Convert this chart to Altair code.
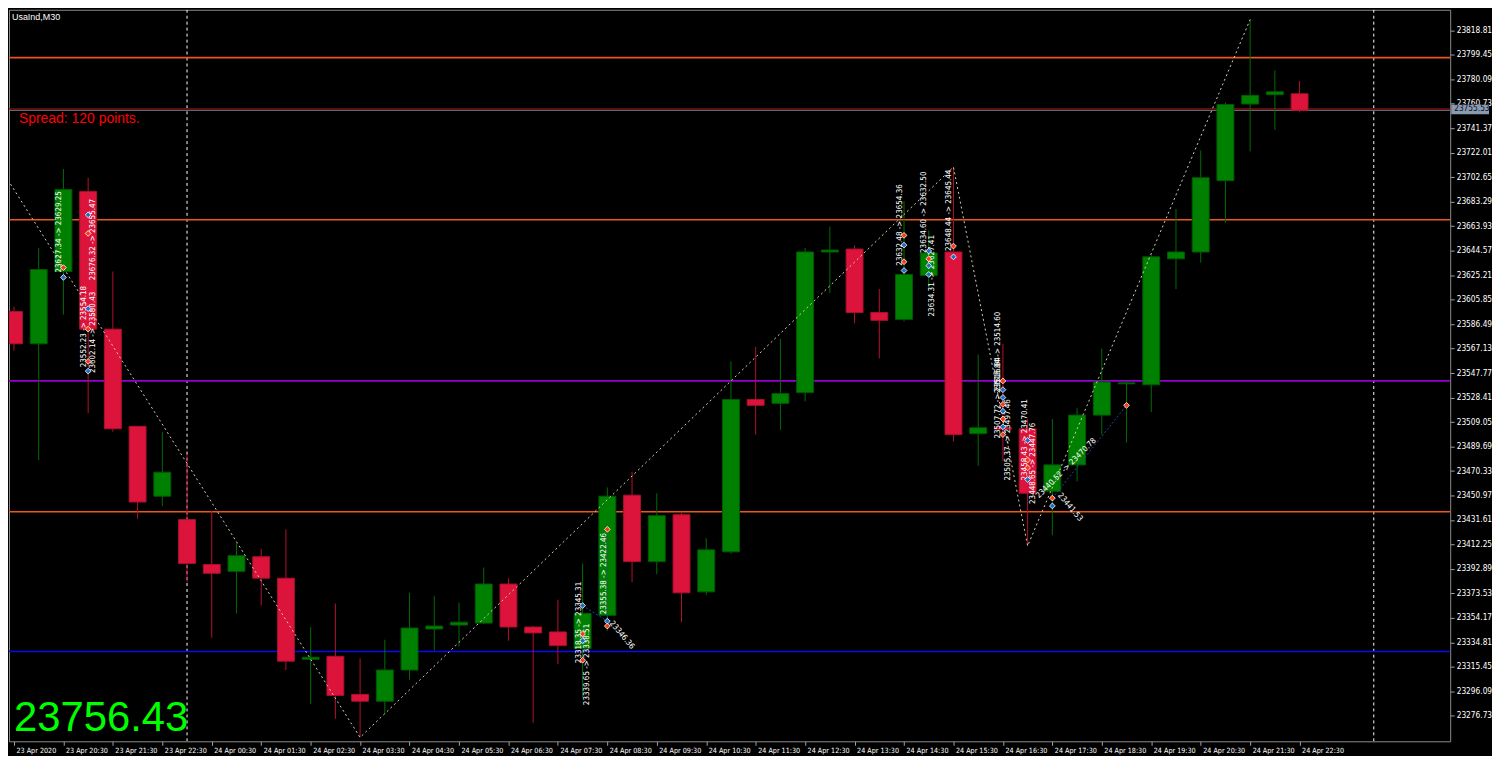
import altair as alt
import pandas as pd

# ---------------- data ----------------
idx = list(range(53))
opens = [23596.42, 23570.94, 23628.08, 23691.40, 23582.52, 23505.68, 23450.47, 23431.94, 23396.42, 23391.01,
         23402.60, 23385.61, 23321.51, 23323.83, 23293.72, 23288.31, 23313.02, 23345.45, 23348.54, 23350.09,
         23380.97, 23347.00, 23343.14, 23330.01, 23356.26, 23451.24, 23398.73, 23435.80, 23374.80, 23406.46,
         23526.92, 23523.83, 23532.33, 23643.52, 23645.84, 23595.65, 23590.24, 23624.99, 23643.52, 23499.89,
         23504.53, 23503.75, 23454.33, 23475.18, 23514.56, 23539.28, 23538.50, 23638.12, 23643.52, 23699.89,
         23760.51, 23767.85, 23768.62]
highs = [23600.28, 23646.61, 23709.16, 23702.21, 23628.08, 23506.07, 23501.44, 23483.68, 23438.89, 23413.41,
         23408.77, 23424.22, 23347.00, 23365.53, 23322.29, 23336.96, 23374.02, 23371.71, 23366.30, 23394.10,
         23385.61, 23347.77, 23368.62, 23397.19, 23457.42, 23469.78, 23452.79, 23438.12, 23417.27, 23557.04,
         23568.62, 23574.80, 23646.61, 23663.60, 23648.93, 23614.18, 23683.68, 23660.51, 23710.70, 23562.44,
         23570.94, 23511.48, 23511.48, 23519.97, 23567.07, 23542.36, 23641.21, 23677.50, 23723.83, 23761.67,
         23827.31, 23787.15, 23778.66]
lows = [23565.53, 23479.04, 23594.10, 23516.11, 23501.44, 23432.71, 23442.75, 23382.52, 23338.50, 23357.81,
        23363.99, 23313.02, 23285.99, 23274.41, 23259.74, 23278.27, 23305.30, 23328.46, 23331.55, 23349.31,
        23336.19, 23271.32, 23317.65, 23291.40, 23343.91, 23382.52, 23388.70, 23350.86, 23372.48, 23404.91,
        23499.12, 23502.98, 23525.38, 23611.09, 23587.15, 23559.35, 23588.70, 23614.18, 23493.72, 23474.41,
        23478.27, 23411.09, 23419.58, 23462.06, 23499.12, 23492.94, 23516.88, 23614.18, 23635.03, 23666.69,
        23723.06, 23740.05, 23753.95]
closes = [23570.94, 23629.62, 23692.94, 23582.52, 23503.75, 23445.84, 23469.39, 23397.19, 23389.47, 23403.37,
          23385.61, 23319.97, 23323.06, 23292.94, 23288.31, 23313.02, 23346.23, 23347.77, 23350.86, 23380.97,
          23347.00, 23342.36, 23332.33, 23357.81, 23450.47, 23398.73, 23435.03, 23374.02, 23408.00, 23526.92,
          23522.29, 23531.55, 23643.52, 23645.07, 23595.65, 23589.47, 23625.76, 23642.75, 23499.12, 23504.53,
          23503.37, 23452.79, 23475.18, 23514.56, 23540.82, 23540.05, 23639.66, 23643.52, 23702.21, 23760.12,
          23767.38, 23770.16, 23755.53]

x_tick_idx = [0, 2, 4, 6, 8, 10, 12, 14, 16, 18, 20, 22, 24, 26, 28, 30, 32, 34, 36, 38, 40, 42, 44, 46, 48, 50, 52]
x_tick_labels = ["23 Apr 2020", "23 Apr 20:30", "23 Apr 21:30", "23 Apr 22:30", "24 Apr 00:30", "24 Apr 01:30",
                 "24 Apr 02:30", "24 Apr 03:30", "24 Apr 04:30", "24 Apr 05:30", "24 Apr 06:30", "24 Apr 07:30",
                 "24 Apr 08:30", "24 Apr 09:30", "24 Apr 10:30", "24 Apr 11:30", "24 Apr 12:30", "24 Apr 13:30",
                 "24 Apr 14:30", "24 Apr 15:30", "24 Apr 16:30", "24 Apr 17:30", "24 Apr 18:30", "24 Apr 19:30",
                 "24 Apr 20:30", "24 Apr 21:30", "24 Apr 22:30"]
y_ticks = [23818.81, 23799.45, 23780.09, 23760.73, 23741.37, 23722.01, 23702.65, 23683.29, 23663.93, 23644.57,
           23625.21, 23605.85, 23586.49, 23567.13, 23547.77, 23528.41, 23509.05, 23489.69, 23470.33, 23450.97,
           23431.61, 23412.25, 23392.89, 23373.53, 23354.17, 23334.81, 23315.45, 23296.09, 23276.73]

level_prices = [23797.19, 23669.00, 23438.12, 23541.59, 23327.69]
level_colors = ["#EE561C", "#EE561C", "#EE561C", "#9400D3", "#0A0AF0"]
bid_price = 23755.53
ask_price = 23756.73
separators = [7, 55]

zigzag_i = [-1, 14, 38, 41, 50]
zigzag_p = [23723.83, 23259.74, 23710.70, 23411.09, 23827.31]

marker_i = [2, 2, 3, 3, 3, 3, 3, 3, 23, 23, 23, 23, 24, 24, 24, 36, 36, 36, 36, 37, 37, 37, 37, 38, 38,
            40, 40, 40, 40, 40, 40, 40, 40, 41, 41, 41, 41, 42, 42, 45]
marker_p = [23631.17, 23623.44, 23672.87, 23658.19, 23598.73, 23582.52, 23557.04, 23549.31,
            23363.99, 23341.59, 23336.19, 23320.74, 23424.22, 23351.63, 23347.77,
            23656.65, 23648.93, 23635.80, 23628.85, 23644.29, 23638.12, 23632.71, 23625.76,
            23648.16, 23639.66,
            23541.59, 23534.64, 23528.46, 23523.06, 23517.65, 23511.48, 23505.30, 23499.12,
            23494.49, 23479.04, 23472.87, 23463.60, 23448.93, 23442.75, 23522.29]
marker_kind = ["s", "b", "b", "s", "b", "s", "s", "b", "b", "s", "b", "s", "s", "b", "s",
               "s", "b", "s", "b", "b", "s", "b", "b", "s", "b",
               "s", "b", "b", "s", "b", "s", "b", "s", "b", "s", "s", "b", "s", "b", "s"]

note_i = [1.83, 3.19, 2.83, 3.19, 22.87, 23.19, 23.86, 35.82, 36.81, 37.13, 37.81, 39.8, 39.8, 40.2, 40.88,
          41.2, 41.4, 42.27, 24.14]
note_p = [23627.31, 23621.13, 23552.40, 23547.77, 23318.43, 23285.22, 23357.04, 23632.71, 23642.75, 23592.56,
          23644.29, 23496.03, 23532.0, 23462.83, 23462.83, 23444.29, 23449.70, 23452.02, 23350.86]
note_text = ["23627.34 -> 23629.25", "23676.32 -> 23655.47", "23552.23 -> 23554.18", "23602.14 -> 23580.43",
             "23318.35 -> 23345.31", "23339.65 -> 23338.51", "23355.38 -> 23422.46", "23632.48 -> 23654.36",
             "23634.60 -> 23632.50", "23634.31 -> 23627.41", "23648.44 -> 23645.44", "23507.72 -> 23516.84",
             "23516.84 -> 23514.60", "23505.37 -> 23497.46", "23458.43 -> 23470.41", "23448.65 -> 23447.76",
             "23440.52 -> 23470.78", "23441.53", "23346.36"]
note_angle = [270, 270, 270, 270, 270, 270, 270, 270, 270, 270, 270, 270, 270, 270, 270, 270, 315, 50, 50]

trade_g = ["a", "a", "b", "b", "c", "c"]
trade_i = [42, 45, 23, 24, 24, 24]
trade_p = [23448.93, 23522.29, 23363.99, 23351.63, 23424.22, 23351.63]

# ---------------- layout ----------------
W, H = 1448, 735
X_DOMAIN = [0, 57.89]
Y_DOMAIN = [23256.65, 23835.03]
SMALL_FONT = "Liberation Sans Narrow, DejaVu Sans Condensed, Liberation Sans, sans-serif"

label_arr = "[" + ",".join("'" + s + "'" for s in x_tick_labels) + "]"

xscale = alt.Scale(domain=X_DOMAIN, nice=False, zero=False)
yscale = alt.Scale(domain=Y_DOMAIN, nice=False, zero=False)
xaxis = alt.Axis(values=x_tick_idx, labelExpr=label_arr + "[datum.value/2]", labelAlign="left",
                 labelBaseline="top", labelOffset=2, labelPadding=1, tickSize=4, labelOverlap=False,
                 labelFlush=False, labelFontSize=7.2, domain=False, grid=False, title=None)
yaxis = alt.Axis(values=y_ticks, format=".2f", orient="right", tickSize=4, labelPadding=2,
                 labelFontSize=8.3, labelOverlap=False, labelFlush=False, domain=False, grid=False,
                 title=None)


def X(f):
    return alt.X(f, type="quantitative", scale=xscale, axis=xaxis)


def Y(f):
    return alt.Y(f, type="quantitative", scale=yscale, axis=yaxis)


candles = pd.DataFrame({"i": idx, "open": opens, "high": highs, "low": lows, "close": closes})
up = "datum.close >= datum.open"

wicks = alt.Chart(candles).mark_rule(strokeWidth=1, clip=True).encode(
    x=X("i"), y=Y("low"), y2="high",
    color=alt.condition(up, alt.value("#006E00"), alt.value("#B4102E")))
bodies = alt.Chart(candles).mark_bar(size=17, strokeWidth=1, clip=True).encode(
    x=X("i"), y=Y("open"), y2="close",
    color=alt.condition(up, alt.value("#008000"), alt.value("#DC143C")),
    stroke=alt.condition(up, alt.value("#005A00"), alt.value("#A8102C")))

levels = alt.Chart(pd.DataFrame({"p": level_prices, "c": level_colors})).mark_rule(strokeWidth=1.6).encode(
    y=Y("p"), color=alt.Color("c:N", scale=None))
ask_line = alt.Chart(pd.DataFrame({"p": [ask_price]})).mark_rule(strokeWidth=1, color="#B40000").encode(y=Y("p"))
bid_line = alt.Chart(pd.DataFrame({"p": [bid_price]})).mark_rule(strokeWidth=1, color="#778899").encode(y=Y("p"))

seps = alt.Chart(pd.DataFrame({"i": separators})).mark_rule(
    color="white", strokeDash=[3, 3], strokeWidth=1, clip=True).encode(x=X("i"))

zig = alt.Chart(pd.DataFrame({"i": zigzag_i, "p": zigzag_p})).mark_line(
    color="#D8CFB2", strokeDash=[2, 3], strokeWidth=1, clip=True).encode(x=X("i"), y=Y("p"))

trades = alt.Chart(pd.DataFrame({"g": trade_g, "i": trade_i, "p": trade_p})).mark_line(
    color="#1E4BA8", strokeDash=[2, 2], strokeWidth=1).encode(x=X("i"), y=Y("p"), detail="g:N")

notes = alt.Chart(pd.DataFrame({"i": note_i, "p": note_p, "t": note_text, "a": note_angle})).mark_text(
    align="left", baseline="middle", font=SMALL_FONT, fontSize=8, color="white").encode(
    x=X("i"), y=Y("p"), text="t:N", angle=alt.Angle("a:Q", scale=None))

markers = alt.Chart(pd.DataFrame({"i": marker_i, "p": marker_p, "k": marker_kind})).mark_point(
    shape="diamond", filled=True, size=34, stroke="white", strokeWidth=0.8, opacity=1).encode(
    x=X("i"), y=Y("p"),
    color=alt.condition("datum.k == 's'", alt.value("#FF3A10"), alt.value("#1E6EC8")))

box = alt.Chart(pd.DataFrame({"p1": [23760.2], "p2": [23752.4]})).mark_rect(color="#8A9AAE").encode(
    x=alt.value(W + 1), x2=alt.value(W + 39), y=Y("p1"), y2="p2")
box_text = alt.Chart(pd.DataFrame({"p": [23756.3], "t": ["23755.53"]})).mark_text(
    align="left", baseline="middle", font=SMALL_FONT, fontSize=8.3, color="#101030").encode(
    x=alt.value(W + 4), y=Y("p"), text="t:N")

title_txt = alt.Chart(pd.DataFrame({"t": ["UsaInd,M30"]})).mark_text(
    align="left", baseline="middle", font="Liberation Sans", fontSize=9, color="white").encode(
    x=alt.value(3), y=alt.value(7), text="t:N")
spread_txt = alt.Chart(pd.DataFrame({"t": ["Spread: 120 points."]})).mark_text(
    align="left", baseline="middle", font="Liberation Sans", fontSize=14, color="#FF0000").encode(
    x=alt.value(10), y=alt.value(110), text="t:N")
price_txt = alt.Chart(pd.DataFrame({"t": ["23756.43"]})).mark_text(
    align="left", baseline="alphabetic", font="Liberation Sans", fontSize=42, color="#00FF00").encode(
    x=alt.value(5), y=alt.value(H - 10), text="t:N")

chart = alt.layer(
    seps, levels, ask_line, bid_line, wicks, bodies, zig, trades, notes, markers,
    box, box_text, title_txt, spread_txt, price_txt
).properties(width=W, height=H, padding=0).configure(
    background="black"
).configure_view(
    stroke="#8C8C8C", strokeWidth=1
).configure_axis(
    labelColor="white", labelFont=SMALL_FONT, tickColor="#A0A0A0", tickWidth=1
)

chart.save("out.html", embed_options={"renderer": "svg", "actions": False})
